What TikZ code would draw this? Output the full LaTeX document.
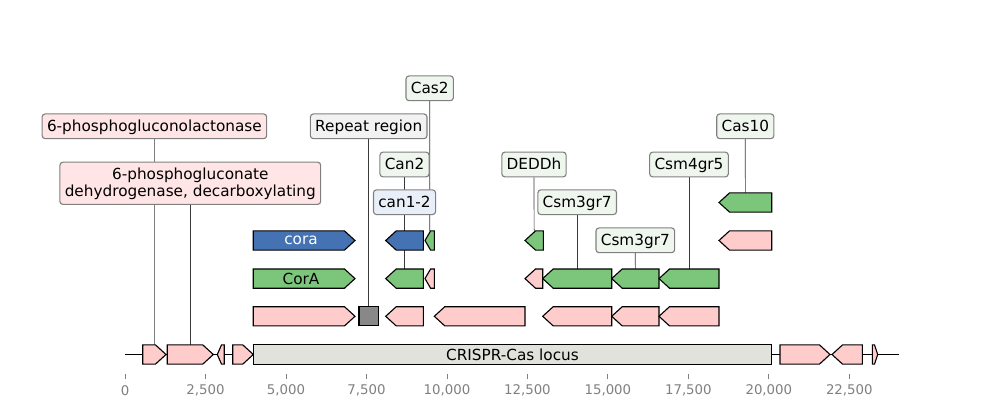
\documentclass[tikz,border=0pt]{standalone}
\usepackage{fontspec}
\setmainfont{DejaVu Sans}
\pgfdeclarelayer{bg}
\pgfdeclarelayer{fg}
\pgfsetlayers{bg,main,fg}
\definecolor{fpink}{HTML}{FFCCCC}
\definecolor{fgreen}{HTML}{7CC67C}
\definecolor{fblue}{HTML}{4472B2}
\definecolor{fgray}{HTML}{888888}
\definecolor{locus}{HTML}{E2E2DC}
\definecolor{lpink}{HTML}{FFE5E5}
\definecolor{lgreen}{HTML}{EEF6EE}
\definecolor{lblue}{HTML}{E9EFF8}
\definecolor{lgray}{HTML}{F2F2F2}
\definecolor{lborder}{HTML}{808080}
\definecolor{ticktext}{HTML}{808080}
\definecolor{connc}{HTML}{3A3A3A}
\newcommand\labfont{\fontsize{11}{12.6}\selectfont}
\newcommand\lstrut{\rule[-2.3pt]{0pt}{11.6pt}}
\newcommand\fh{9.6}
\newcommand\featF[5]{%
  \pgfmathsetmacro\hdlen{min(10.5,0.6*(#3-#2))}%
  \draw[feat,fill=#5] (#2,#4-\fh) -- ({#3-\hdlen},#4-\fh) -- (#3,#4) -- ({#3-\hdlen},#4+\fh) -- (#2,#4+\fh) -- cycle;
  \coordinate (#1) at ({(#2+#3)/2},#4-\fh);
}
\newcommand\featR[5]{%
  \pgfmathsetmacro\hdlen{min(10.5,0.6*(#3-#2))}%
  \draw[feat,fill=#5] (#3,#4-\fh) -- ({#2+\hdlen},#4-\fh) -- (#2,#4) -- ({#2+\hdlen},#4+\fh) -- (#3,#4+\fh) -- cycle;
  \coordinate (#1) at ({(#2+#3)/2},#4-\fh);
}
\tikzset{
  feat/.style={draw=black, line width=0.8pt, line join=miter},
  lab/.style={draw=lborder, rounded corners=2.2pt, line width=0.8pt, inner xsep=3.5pt, inner ysep=3.1pt, font=\labfont, align=center, text=black},
  conn/.style={draw=connc, line width=0.5pt},
  ticklab/.style={font=\fontsize{9.6}{11}\selectfont, text=ticktext},
}
\begin{document}
\begin{tikzpicture}[x=0.72pt,y=-0.72pt]
\useasboundingbox (0,0) rectangle (1000,420);
% axis
\coordinate (axL) at (125,354.5);
\coordinate (axR) at (899,354.5);
\draw[line width=1.15pt] (axL) -- (axR);
\foreach \k/\t in {0/0,2.5/{2,500},5/{5,000},7.5/{7,500},10/{10,000},12.5/{12,500},15/{15,000},17.5/{17,500},20/{20,000},22.5/{22,500}}{
  \pgfmathsetmacro\tx{125+\k*32.192}
  \draw[ticktext, line width=0.6pt] (\tx,374) -- (\tx,379);
  \node[ticklab] (tick\k) at (\tx,390.5) {\t};
}
% baseline row
\featF{b1}{142.7}{166}{354.5}{fpink}
\featF{b2}{167.3}{213.3}{354.5}{fpink}
\featR{b3}{217.3}{224.3}{354.5}{fpink}
\featF{b4}{232.7}{253.3}{354.5}{fpink}
\draw[feat,fill=locus] (253.3,344.9) rectangle (771.7,364.1);
\node[font=\labfont] (locuslab) at (512.5,354.5) {CRISPR-Cas locus};
\featF{b5}{780}{830}{354.5}{fpink}
\featR{b6}{832}{862.3}{354.5}{fpink}
\featF{b7}{872.3}{877.7}{354.5}{fpink}
% row 1
\featF{r1a}{253.3}{355}{316.3}{fpink}
\draw[feat,fill=fgray] (359,306.7) rectangle (378.3,325.9);
\coordinate (rep) at (368.7,306.7);
\featR{r1c}{385.7}{423.3}{316.3}{fpink}
\featR{r1d}{434.3}{525}{316.3}{fpink}
\featR{r1e}{542.7}{611.7}{316.3}{fpink}
\featR{r1f}{611.7}{659}{316.3}{fpink}
\featR{r1g}{659}{719}{316.3}{fpink}
% row 2
\featF{r2a}{253.3}{355}{278.6}{fgreen}
\node[font=\labfont] (corAlab) at (301,278.6) {CorA};
\featR{r2b}{385.7}{423.3}{278.6}{fgreen}
\featR{r2c}{425}{434.3}{278.6}{fpink}
\featR{r2d}{525}{542.7}{278.6}{fpink}
\featR{r2e}{542.7}{611.7}{278.6}{fgreen}
\featR{r2f}{611.7}{659}{278.6}{fgreen}
\featR{r2g}{659}{719}{278.6}{fgreen}
% row 3
\featF{r3a}{253.3}{355}{240.5}{fblue}
\node[font=\labfont, text=white] (coralab) at (301,240.5) {cora};
\featR{r3b}{385.7}{423.3}{240.5}{fblue}
\featR{r3c}{425}{434.3}{240.5}{fgreen}
\featR{r3d}{525}{543.3}{240.5}{fgreen}
\featR{r3e}{719}{771.7}{240.5}{fpink}
% row 4
\featR{r4a}{719}{771.7}{202.5}{fgreen}
% labels
\begin{pgfonlayer}{fg}
\node[lab, fill=lgreen] (Lcas2) at (429.7,88.3) {\lstrut Cas2};
\node[lab, fill=lpink] (Lpgl) at (154.4,126.3) {\lstrut 6-phosphogluconolactonase};
\node[lab, fill=lgray] (Lrep) at (368.7,126.3) {\lstrut Repeat region};
\node[lab, fill=lgreen] (Lcas10) at (745.3,126.3) {\lstrut Cas10};
\node[lab, fill=lgreen] (Lcan2) at (404.5,164.5) {\lstrut Can2};
\node[lab, fill=lgreen] (Ldedd) at (534,164.5) {\lstrut DEDDh};
\node[lab, fill=lgreen] (Lcsm4) at (689,164.5) {\lstrut Csm4gr5};
\node[lab, fill=lpink] (Lpgd) at (190.3,183.3) {\lstrut 6-phosphogluconate\\\lstrut dehydrogenase, decarboxylating};
\node[lab, fill=lblue] (Lcan12) at (404.5,202.2) {\lstrut can1-2};
\node[lab, fill=lgreen] (Lcsm3a) at (577.2,202.2) {\lstrut Csm3gr7};
\node[lab, fill=lgreen] (Lcsm3b) at (635.3,240.3) {\lstrut Csm3gr7};
\end{pgfonlayer}
% connectors
\begin{pgfonlayer}{bg}
\draw[conn] (Lcas2.south) -- (r3c);
\draw[conn] (Lpgl.south) -- (b1);
\draw[conn] (Lrep.south) -- (rep);
\draw[conn] (Lcas10.south) -- (r4a);
\draw[conn] (Lcan2.south) -- (r2b);
\draw[conn] (Ldedd.south) -- (r3d);
\draw[conn] (Lcsm4.south) -- (r2g);
\draw[conn] (Lpgd.south) -- (b2);
\draw[conn] (Lcan12.south) -- (r3b);
\draw[conn] (Lcsm3a.south) -- (r2e);
\draw[conn] (Lcsm3b.south) -- (r2f);
\end{pgfonlayer}
\end{tikzpicture}
\end{document}
